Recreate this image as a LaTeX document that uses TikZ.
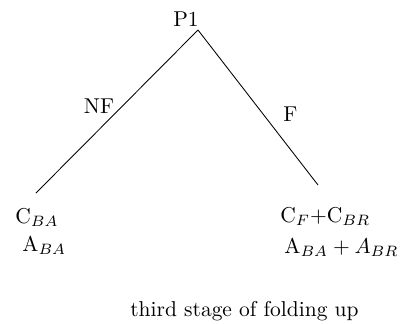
\documentclass[tikz,border=0pt]{standalone}
\usepackage{amsmath,amssymb}
\usepackage{tikz}
\usetikzlibrary{positioning}

\begin{document}
\begin{tikzpicture}[
    x=0.01635cm, y=-0.01635cm,
    lbl/.style={inner sep=0pt, anchor=base},
    leaf/.style={inner sep=0pt, anchor=base west},
    branch/.style={draw, line width=0.4pt},
]
    \useasboundingbox (0,0) rectangle (405,323);

    \node[lbl]  (p1)   at (186,26)  {P1};
    \coordinate (root) at (198,30);
    \coordinate (lend) at (36,193);
    \coordinate (rend) at (318,185);

    \node[lbl]  (nf)   at (99,113)   {NF};
    \node[lbl]  (f)    at (290.5,121.5) {F};

    \node[leaf] (cba)  at (15,223)  {C$_{BA}$};
    \node[leaf] (aba)  at (22,251)  {A$_{BA}$};
    \node[leaf] (cfbr) at (280,222) {C$_F$+C$_{BR}$};
    \node[leaf] (abr)  at (284,253) {A$_{BA} + A_{BR}$};

    \node[lbl]  (cap)  at (244.5,316) {third stage of folding up};

    \draw[branch] (root) -- (lend);
    \draw[branch] (root) -- (rend);
\end{tikzpicture}
\end{document}
